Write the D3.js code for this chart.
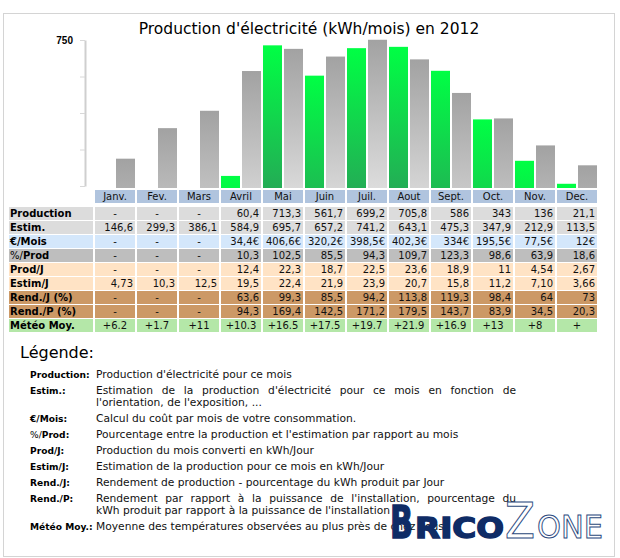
<!DOCTYPE html>
<html lang="fr">
<head>
<meta charset="UTF-8">
<title>Production d'électricité (kWh/mois) en 2012</title>
<script src="https://d3js.org/d3.v7.min.js"></script>
<style>
  body { margin: 0; background: #fff; }
  svg { display: block; font-family: "DejaVu Sans", Verdana, sans-serif; }
  .title { font-size: 15.5px; fill: #000; }
  .axis path { stroke: #cfcfcf; stroke-width: 2; }
  .axis line { stroke: #d8d8d8; }
  .axis text { font-size: 10px; font-weight: bold; fill: #000; }
  .cell-text { font-size: 10px; fill: #111; }
  .row-label { font-size: 10px; font-weight: bold; fill: #000; }
  .legend-title { font-size: 16px; fill: #000; }
  .legend-label { font-size: 9.1px; font-weight: bold; fill: #000; }
  .legend-desc { font-size: 10.7px; fill: #111; }
</style>
</head>
<body>
<svg id="chart" width="620" height="558"></svg>
<script>
  // --- data ---
  const months = ["Janv.", "Fev.", "Mars", "Avril", "Mai", "Juin", "Juil.", "Aout", "Sept.", "Oct.", "Nov.", "Dec."];
  const production = [null, null, null, 60.4, 713.3, 561.7, 699.2, 705.8, 586, 343, 136, 21.1];
  const estim = [146.6, 299.3, 386.1, 584.9, 695.7, 657.2, 741.2, 643.1, 475.3, 347.9, 212.9, 113.5];
  const coutMois = ["-", "-", "-", "34,4€", "406,6€", "320,2€", "398,5€", "402,3€", "334€", "195,5€", "77,5€", "12€"];
  const pctProd = ["-", "-", "-", "10,3", "102,5", "85,5", "94,3", "109,7", "123,3", "98,6", "63,9", "18,6"];
  const prodJ = ["-", "-", "-", "12,4", "22,3", "18,7", "22,5", "23,6", "18,9", "11", "4,54", "2,67"];
  const estimJ = ["4,73", "10,3", "12,5", "19,5", "22,4", "21,9", "23,9", "20,7", "15,8", "11,2", "7,10", "3,66"];
  const rendJ = ["-", "-", "-", "63,6", "99,3", "85,5", "94,2", "113,8", "119,3", "98,4", "64", "73"];
  const rendP = ["-", "-", "-", "94,3", "169,4", "142,5", "171,2", "179,5", "143,7", "83,9", "34,5", "20,3"];
  const meteo = ["+6.2", "+1.7", "+11", "+10.3", "+16.5", "+17.5", "+19.7", "+21.9", "+16.9", "+13", "+8", "+"];
  const yTicks = [0, 187.5, 375, 562.5, 750];

  const legendItems = [
    { label: "Production:", lines: ["Production d'électricité pour ce mois"] },
    { label: "Estim.:", lines: ["Estimation de la production d'électricité pour ce mois en fonction de", "l'orientation, de l'exposition, ..."] },
    { label: "€/Mois:", lines: ["Calcul du coût par mois de votre consommation."] },
    { label: "%/Prod:", lines: ["Pourcentage entre la production et l'estimation par rapport au mois"] },
    { label: "Prod/J:", lines: ["Production du mois converti en kWh/Jour"] },
    { label: "Estim/J:", lines: ["Estimation de la production pour ce mois en kWh/Jour"] },
    { label: "Rend./J:", lines: ["Rendement de production - pourcentage du kWh produit par Jour"] },
    { label: "Rend./P:", lines: ["Rendement par rapport à la puissance de l'installation, pourcentage du", "kWh produit par rapport à la puissance de l'installation"] },
    { label: "Météo Moy.:", lines: ["Moyenne des températures observées au plus près de chez vous"] }
  ];

  const fmt = v => v == null ? "-" : String(v).replace(".", ",");

  const svg = d3.select("#chart");
  const defs = svg.append("defs");

  // outer frame
  svg.append("rect")
    .attr("x", 3.5).attr("y", 13.5)
    .attr("width", 611).attr("height", 543)
    .attr("fill", "none").attr("stroke", "#d4d4d4");

  svg.append("text")
    .attr("class", "title")
    .attr("x", 309).attr("y", 34)
    .attr("text-anchor", "middle")
    .text("Production d'électricité (kWh/mois) en 2012");

  // scales
  const x = d3.scaleBand().domain(months).range([94, 598]).paddingInner(2 / 42).paddingOuter(1 / 42);
  const xInner = d3.scaleBand().domain(["prod", "estim"]).range([0, x.bandwidth()]).paddingInner(2 / 21);
  const y = d3.scaleLinear().domain([0, 750]).range([188, 38]);
  const yAxisScale = y.copy().range([186, 40]);

  // axis
  svg.append("g")
    .attr("class", "axis")
    .attr("transform", "translate(85,0)")
    .call(d3.axisLeft(yAxisScale)
      .tickValues(yTicks)
      .tickSize(5)
      .tickSizeOuter(0)
      .tickPadding(7)
      .tickFormat(d => d === 750 ? "750" : ""));

  // bars
  const barData = [];
  months.forEach((m, i) => {
    if (production[i] != null) barData.push({ month: m, key: "prod", value: production[i] });
    barData.push({ month: m, key: "estim", value: estim[i] });
  });

  barData.forEach((d, i) => {
    const top = y(d.value);
    const g = defs.append("linearGradient")
      .attr("id", "grad" + i)
      .attr("gradientUnits", "userSpaceOnUse")
      .attr("x1", 0).attr("x2", 0)
      .attr("y1", top).attr("y2", top + 150);
    if (d.key === "prod") {
      g.append("stop").attr("offset", 0).attr("stop-color", "#00ff44");
      g.append("stop").attr("offset", 1).attr("stop-color", "#25a856");
    } else {
      g.append("stop").attr("offset", 0).attr("stop-color", "#a2a2a2");
      g.append("stop").attr("offset", 1).attr("stop-color", "#dddddd");
    }
    d.grad = "url(#grad" + i + ")";
  });

  svg.append("g").selectAll("rect")
    .data(barData)
    .join("rect")
    .attr("x", d => x(d.month) + xInner(d.key))
    .attr("y", d => y(d.value))
    .attr("width", xInner.bandwidth())
    .attr("height", d => y(0) - y(d.value))
    .attr("fill", d => d.grad);

  // month header
  const header = svg.append("g");
  header.selectAll("rect")
    .data(months)
    .join("rect")
    .attr("x", d => x(d)).attr("y", 190)
    .attr("width", x.bandwidth()).attr("height", 13)
    .attr("fill", "#b0c4de");
  header.selectAll("text")
    .data(months)
    .join("text")
    .attr("class", "cell-text")
    .attr("x", d => x(d) + x.bandwidth() / 2).attr("y", 200)
    .attr("text-anchor", "middle")
    .text(d => d);

  // table rows
  const rows = [
    { label: ["", "Production"], bg: "#dcdcdc", values: production.map(fmt) },
    { label: ["", "Estim."], bg: "#dcdcdc", values: estim.map(fmt) },
    { label: ["", "€/Mois"], bg: "#d4e7fb", values: coutMois },
    { label: ["%/", "Prod"], bg: "#bebebe", values: pctProd },
    { label: ["", "Prod/J"], bg: "#ffe3c5", values: prodJ },
    { label: ["", "Estim/J"], bg: "#ffe3c5", values: estimJ },
    { label: ["", "Rend./J (%)"], bg: "#cc9966", values: rendJ },
    { label: ["", "Rend./P (%)"], bg: "#cc9966", values: rendP },
    { label: ["", "Météo Moy."], bg: "#b4e7a8", values: meteo, center: true }
  ];

  const rowY = i => 207 + 14 * i;
  const table = svg.append("g");

  rows.forEach((row, r) => {
    const ry = rowY(r);
    const g = table.append("g");
    g.append("rect")
      .attr("x", 9).attr("y", ry)
      .attr("width", 84).attr("height", 13)
      .attr("fill", row.bg);
    const lbl = g.append("text")
      .attr("class", "row-label")
      .attr("x", 10).attr("y", ry + 10);
    if (row.label[0]) lbl.append("tspan").attr("font-weight", "normal").text(row.label[0]);
    lbl.append("tspan").text(row.label[1]);

    g.selectAll(".cell")
      .data(row.values)
      .join("rect")
      .attr("class", "cell")
      .attr("x", (d, i) => x(months[i])).attr("y", ry)
      .attr("width", x.bandwidth()).attr("height", 13)
      .attr("fill", row.bg);

    g.selectAll(".val")
      .data(row.values)
      .join("text")
      .attr("class", "cell-text val")
      .attr("y", ry + 10)
      .attr("x", (d, i) => (d === "-" || row.center) ? x(months[i]) + x.bandwidth() / 2 : x(months[i]) + x.bandwidth() - 2)
      .attr("text-anchor", d => (d === "-" || row.center) ? "middle" : "end")
      .text(d => d);
  });

  // legend
  const legend = svg.append("g");
  legend.append("text")
    .attr("class", "legend-title")
    .attr("x", 20).attr("y", 358)
    .text("Légende:");

  let ly = 378;
  legendItems.forEach(item => {
    const lab = legend.append("text")
      .attr("class", "legend-label")
      .attr("x", 30).attr("y", ly);
    if (item.label.startsWith("%/")) {
      lab.append("tspan").attr("font-weight", "normal").text("%/");
      lab.append("tspan").text(item.label.slice(2));
    } else {
      lab.text(item.label);
    }
    item.lines.forEach((line, k) => {
      const t = legend.append("text")
        .attr("class", "legend-desc")
        .attr("x", 96).attr("y", ly + k * 12)
        .text(line);
      // justify all lines but the last of a multi-line paragraph
      if (item.lines.length > 1 && k < item.lines.length - 1) {
        const w = t.node().getComputedTextLength();
        const spaces = (line.match(/ /g) || []).length;
        t.style("word-spacing", ((516 - 96 - w) / spaces) + "px");
      }
    });
    ly += 16 + (item.lines.length - 1) * 12;
  });

  // watermark logo (drawn over the legend, as in the original)
  const logo = svg.append("g").attr("font-family", "'DejaVu Sans', sans-serif");
  logo.append("text")
    .attr("x", 390).attr("y", 538)
    .attr("font-size", 45).attr("font-weight", "bold")
    .attr("textLength", 23).attr("lengthAdjust", "spacingAndGlyphs")
    .attr("fill", "#0f2c66").attr("stroke", "#0f2c66").attr("stroke-width", 1.5)
    .text("B");
  logo.append("text")
    .attr("x", 415).attr("y", 538)
    .attr("font-size", 29).attr("font-weight", "bold")
    .attr("textLength", 89).attr("lengthAdjust", "spacingAndGlyphs")
    .attr("fill", "#0f2c66").attr("stroke", "#0f2c66").attr("stroke-width", 1.5)
    .text("RICO");
  logo.append("text")
    .attr("x", 505).attr("y", 538)
    .attr("font-size", 49)
    .attr("textLength", 30).attr("lengthAdjust", "spacingAndGlyphs")
    .attr("fill", "#fff").attr("stroke", "#2c4a80").attr("stroke-width", 1)
    .text("Z");
  logo.append("text")
    .attr("x", 537).attr("y", 538)
    .attr("font-size", 32)
    .attr("textLength", 66).attr("lengthAdjust", "spacingAndGlyphs")
    .attr("fill", "#fff").attr("stroke", "#2c4a80").attr("stroke-width", 1)
    .text("ONE");
</script>
</body>
</html>
